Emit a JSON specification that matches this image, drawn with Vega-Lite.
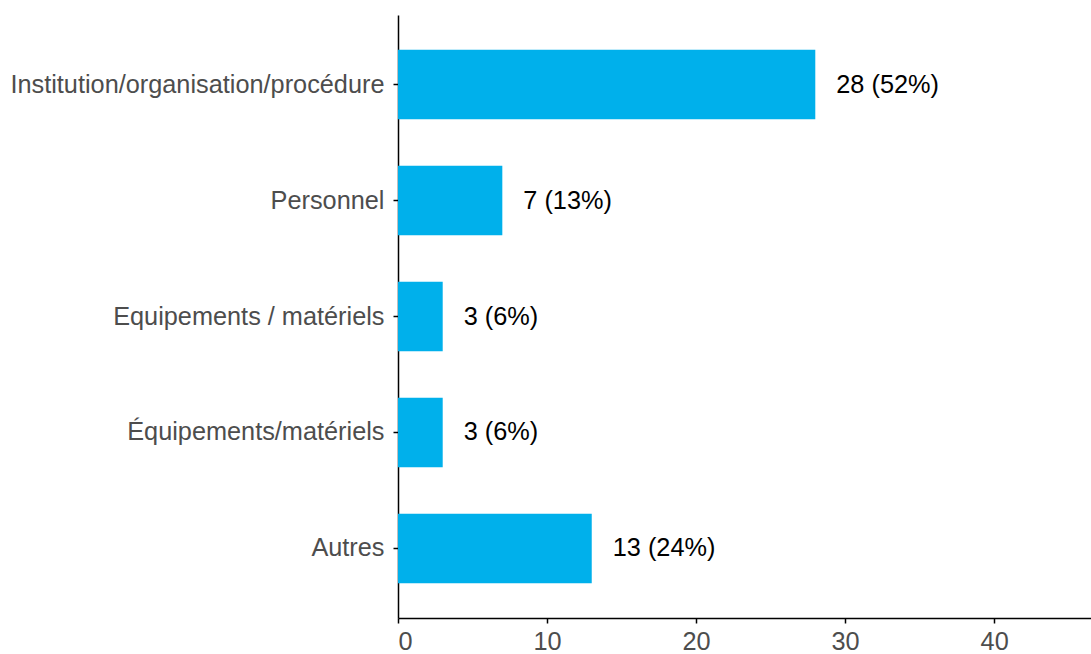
{
  "$schema": "https://vega.github.io/schema/vega-lite/v6.json",
  "autosize": "none",
  "padding": {"left": 398, "top": 15, "right": 0, "bottom": 36},
  "width": 693,
  "height": 603,
  "background": "white",
  "config": {
    "view": {"stroke": null},
    "font": "Liberation Sans"
  },
  "data": {
    "values": [
      {"cat": "Institution/organisation/procédure", "n": 28, "label": "28 (52%)"},
      {"cat": "Personnel", "n": 7, "label": "7 (13%)"},
      {"cat": "Equipements / matériels", "n": 3, "label": "3 (6%)"},
      {"cat": "Équipements/matériels", "n": 3, "label": "3 (6%)"},
      {"cat": "Autres", "n": 13, "label": "13 (24%)"}
    ]
  },
  "encoding": {
    "y": {
      "field": "cat",
      "type": "nominal",
      "sort": null,
      "title": null,
      "scale": {"paddingInner": 0.4, "paddingOuter": 0.3},
      "axis": {
        "domainColor": "black",
        "domainWidth": 1.5,
        "tickColor": "black",
        "tickSize": 5,
        "tickWidth": 1.5,
        "labelColor": "#4d4d4d",
        "labelFontSize": 25.3,
        "labelPadding": 9,
        "labelLimit": 600
      }
    }
  },
  "layer": [
    {
      "mark": {"type": "bar", "color": "#00b0eb"},
      "encoding": {
        "x": {
          "field": "n",
          "type": "quantitative",
          "title": null,
          "scale": {"domain": [0, 46.5], "nice": false},
          "axis": {
            "values": [0, 10, 20, 30, 40],
            "grid": false,
            "domainColor": "black",
            "domainWidth": 1.5,
            "tickColor": "black",
            "tickSize": 5,
            "tickWidth": 1.5,
            "labelColor": "#4d4d4d",
            "labelFontSize": 25.3,
            "labelPadding": 6
          }
        }
      }
    },
    {
      "mark": {"type": "text", "align": "left", "dx": 21, "fontSize": 25.3, "color": "black"},
      "encoding": {
        "x": {"field": "n", "type": "quantitative"},
        "text": {"field": "label"}
      }
    }
  ]
}
